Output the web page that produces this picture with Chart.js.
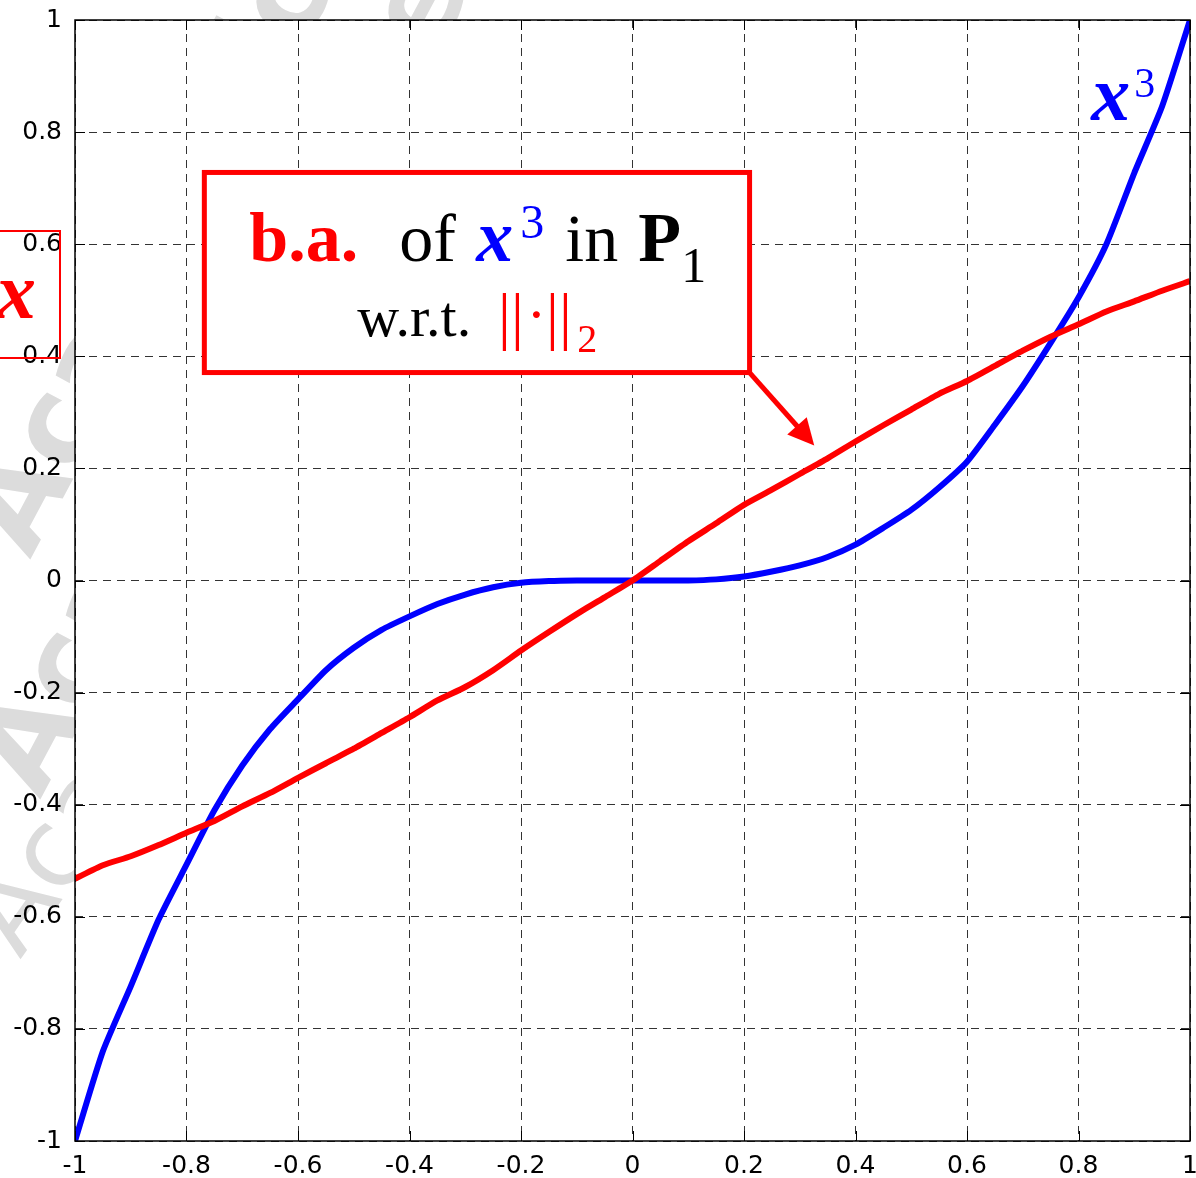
<!DOCTYPE html>
<html>
<head>
<meta charset="utf-8">
<title>Best approximation of x^3 in P1</title>
<script src="https://cdn.jsdelivr.net/npm/chart.js@4.4.1/dist/chart.umd.min.js"></script>
<style>
  html, body { margin: 0; padding: 0; background: #fff; }
  #wrap { width: 1196px; height: 1178px; }
</style>
</head>
<body>
<div id="wrap"><canvas id="bestApprox" width="1196" height="1178"></canvas></div>
<script>
// sample abscissae shared by both curves
const xs = [
  -1, -0.95, -0.9, -0.85, -0.8, -0.75, -0.7, -0.65, -0.6, -0.55, -0.5,
  -0.45, -0.4, -0.35, -0.3, -0.25, -0.2, -0.15, -0.1, -0.05, 0,
  0.05, 0.1, 0.15, 0.2, 0.25, 0.3, 0.35, 0.4, 0.45, 0.5,
  0.55, 0.6, 0.65, 0.7, 0.75, 0.8, 0.85, 0.9, 0.95, 1
];

// x^3
const cubeValues = [
  -1.0, -0.84, -0.724, -0.605, -0.507, -0.41, -0.33, -0.265, -0.212, -0.16, -0.12,
  -0.088, -0.064, -0.042, -0.025, -0.012, -0.004, -0.001, 0, 0, 0,
  0, 0, 0.002, 0.007, 0.016, 0.027, 0.042, 0.064, 0.094, 0.126,
  0.166, 0.212, 0.278, 0.347, 0.424, 0.505, 0.6, 0.727, 0.846, 1.0
];

// best approximation in P1
const approxValues = [
  -0.532, -0.508, -0.492, -0.472, -0.45, -0.429, -0.403, -0.379, -0.352, -0.326, -0.30,
  -0.272, -0.244, -0.214, -0.19, -0.16, -0.125, -0.092, -0.06, -0.03, 0,
  0.035, 0.07, 0.102, 0.135, 0.162, 0.19, 0.218, 0.248, 0.277, 0.305,
  0.333, 0.356, 0.383, 0.41, 0.435, 0.457, 0.48, 0.498, 0.517, 0.534
];

const xTicks = [-1, -0.8, -0.6, -0.4, -0.2, 0, 0.2, 0.4, 0.6, 0.8, 1];
const yTicks = [-1, -0.8, -0.6, -0.4, -0.2, 0, 0.2, 0.4, 0.6, 0.8, 1];

// callout placement (data units) and arrow tip
const callout = { left: -0.768, top: 0.728, right: 0.21, bottom: 0.371 };
const arrowTip = { x: 0.326, y: 0.241 };
const cubeLabelAt = { x: 0.823, y: 0.822 };

const RED = '#ff0000';
const BLUE = '#0000ff';
const SERIF = '"Liberation Serif", "Times New Roman", serif';

function pairs(xv, yv) {
  return xv.map((x, i) => ({ x: x, y: yv[i] }));
}

function tickText(v) {
  return String(Number(v.toFixed(1)));
}

function text(ctx, str, x, y, font, color, align) {
  ctx.font = font;
  ctx.fillStyle = color;
  ctx.textAlign = align || 'left';
  ctx.textBaseline = 'alphabetic';
  ctx.fillText(str, x, y);
}

function stamp(ctx, str, x, y, deg, font) {
  ctx.save();
  ctx.font = font;
  ctx.translate(x, y);
  ctx.rotate(deg * Math.PI / 180);
  ctx.fillText(str, 0, 0);
  ctx.restore();
}

const paperPlugin = {
  id: 'paper',
  beforeDraw(chart) {
    const { ctx, chartArea: a } = chart;
    ctx.save();
    ctx.fillStyle = '#fff';
    ctx.fillRect(0, 0, chart.width, chart.height);

    // faint watermark lettering, only the margins show
    ctx.fillStyle = '#dcdcdc';
    stamp(ctx, 'Academic Press', 30, 560, -62, 'bold 120px "DejaVu Sans"');
    stamp(ctx, 'Academic Press', 40, 800, -62, 'bold 120px "DejaVu Sans"');
    stamp(ctx, 'Academic Press', 20, 960, -55, '110px "DejaVu Sans"');

    ctx.fillStyle = '#fff';
    ctx.fillRect(a.left, a.top, a.right - a.left, a.bottom - a.top);
    ctx.restore();
  }
};

const notesPlugin = {
  id: 'notes',
  afterDraw(chart) {
    const { ctx, chartArea: a, scales } = chart;
    const sx = scales.x, sy = scales.y;
    ctx.save();

    // axes box with inward ticks
    ctx.strokeStyle = '#000';
    ctx.lineWidth = 1.5;
    ctx.setLineDash([]);
    ctx.strokeRect(a.left, a.top, a.right - a.left, a.bottom - a.top);
    ctx.lineWidth = 1;
    ctx.beginPath();
    xTicks.forEach(v => {
      const px = Math.round(sx.getPixelForValue(v)) + 0.5;
      ctx.moveTo(px, a.bottom); ctx.lineTo(px, a.bottom - 10);
      ctx.moveTo(px, a.top); ctx.lineTo(px, a.top + 10);
    });
    yTicks.forEach(v => {
      const py = Math.round(sy.getPixelForValue(v)) + 0.5;
      ctx.moveTo(a.left, py); ctx.lineTo(a.left + 10, py);
      ctx.moveTo(a.right, py); ctx.lineTo(a.right - 10, py);
    });
    ctx.stroke();

    // label for the cubic
    const lx = sx.getPixelForValue(cubeLabelAt.x);
    const ly = sy.getPixelForValue(cubeLabelAt.y);
    text(ctx, 'x', lx, ly, 'bold italic 78px ' + SERIF, BLUE);
    text(ctx, '3', lx + 43, ly - 23, '42px ' + SERIF, BLUE);

    // small boxed "x" at the left edge
    ctx.strokeStyle = RED;
    ctx.lineWidth = 2;
    ctx.strokeRect(-10, 231, 70, 127);
    text(ctx, 'x', -4, 318, 'bold italic 80px ' + SERIF, RED);

    // callout box
    const bl = sx.getPixelForValue(callout.left);
    const br = sx.getPixelForValue(callout.right);
    const bt = sy.getPixelForValue(callout.top);
    const bb = sy.getPixelForValue(callout.bottom);
    ctx.fillStyle = '#fff';
    ctx.fillRect(bl, bt, br - bl, bb - bt);
    ctx.strokeStyle = RED;
    ctx.lineWidth = 5;
    ctx.strokeRect(bl, bt, br - bl, bb - bt);

    text(ctx, 'b.a.', bl + 45, bt + 89, 'bold 70px ' + SERIF, RED);
    text(ctx, 'of', bl + 195, bt + 89, '68px ' + SERIF, '#000');
    text(ctx, 'x', bl + 272, bt + 89, 'bold italic 74px ' + SERIF, BLUE);
    text(ctx, '3', bl + 316, bt + 66, '48px ' + SERIF, BLUE);
    text(ctx, 'in', bl + 361, bt + 89, '68px ' + SERIF, '#000');
    text(ctx, 'P', bl + 434, bt + 89, 'bold 70px ' + SERIF, '#000');
    text(ctx, '1', bl + 477, bt + 110, '50px ' + SERIF, '#000');

    text(ctx, 'w.r.t.', bl + 153, bt + 164, '58px ' + SERIF, '#000');
    const bars = [300, 313, 348, 361];
    bars.forEach(dx => text(ctx, '|', bl + dx, bt + 165, '64px ' + SERIF, RED, 'center'));
    text(ctx, '\u00b7', bl + 332, bt + 162, '58px ' + SERIF, RED, 'center');
    text(ctx, '2', bl + 373, bt + 180, '40px ' + SERIF, RED);

    // arrow from the box corner
    const tx = sx.getPixelForValue(arrowTip.x);
    const ty = sy.getPixelForValue(arrowTip.y);
    const dx = tx - br, dy = ty - bb;
    const len = Math.hypot(dx, dy);
    const ux = dx / len, uy = dy / len;
    const headLen = 26, headHalf = 13;
    const baseX = tx - ux * headLen, baseY = ty - uy * headLen;
    ctx.beginPath();
    ctx.moveTo(br, bb);
    ctx.lineTo(baseX + ux * 2, baseY + uy * 2);
    ctx.stroke();
    ctx.fillStyle = RED;
    ctx.beginPath();
    ctx.moveTo(tx, ty);
    ctx.lineTo(baseX - uy * headHalf, baseY + ux * headHalf);
    ctx.lineTo(baseX + uy * headHalf, baseY - ux * headHalf);
    ctx.closePath();
    ctx.fill();

    ctx.restore();
  }
};

const tickFont = { family: '"DejaVu Sans", sans-serif', size: 25 };

new Chart(document.getElementById('bestApprox'), {
  type: 'scatter',
  data: {
    datasets: [
      {
        label: 'b.a. of x^3 in P1',
        data: pairs(xs, approxValues),
        showLine: true,
        borderColor: RED,
        borderWidth: 6,
        pointRadius: 0,
        tension: 0.2
      },
      {
        label: 'x^3',
        data: pairs(xs, cubeValues),
        showLine: true,
        borderColor: BLUE,
        borderWidth: 6,
        pointRadius: 0,
        tension: 0.2
      }
    ]
  },
  options: {
    responsive: false,
    animation: false,
    layout: { padding: { top: 20, right: 6, left: 0, bottom: 0 } },
    plugins: {
      legend: { display: false },
      tooltip: { enabled: false }
    },
    scales: {
      x: {
        type: 'linear',
        min: -1,
        max: 1,
        afterBuildTicks: scale => { scale.ticks = xTicks.map(v => ({ value: v })); },
        afterFit: scale => {
          scale.height = 37;
          scale.paddingLeft = 0;
          scale.paddingRight = 0;
        },
        ticks: {
          font: tickFont,
          color: '#000',
          padding: 10,
          maxRotation: 0,
          autoSkip: false,
          callback: v => tickText(v)
        },
        grid: { color: '#333', lineWidth: 1, drawTicks: false },
        border: { display: false, dash: [8, 6] }
      },
      y: {
        type: 'linear',
        min: -1,
        max: 1,
        afterBuildTicks: scale => { scale.ticks = yTicks.map(v => ({ value: v })); },
        afterFit: scale => {
          scale.width = 75;
          scale.paddingTop = 0;
          scale.paddingBottom = 0;
        },
        ticks: {
          font: tickFont,
          color: '#000',
          padding: 13,
          autoSkip: false,
          callback: v => tickText(v)
        },
        grid: { color: '#333', lineWidth: 1, drawTicks: false },
        border: { display: false, dash: [8, 6] }
      }
    }
  },
  plugins: [paperPlugin, notesPlugin]
});
</script>
</body>
</html>
